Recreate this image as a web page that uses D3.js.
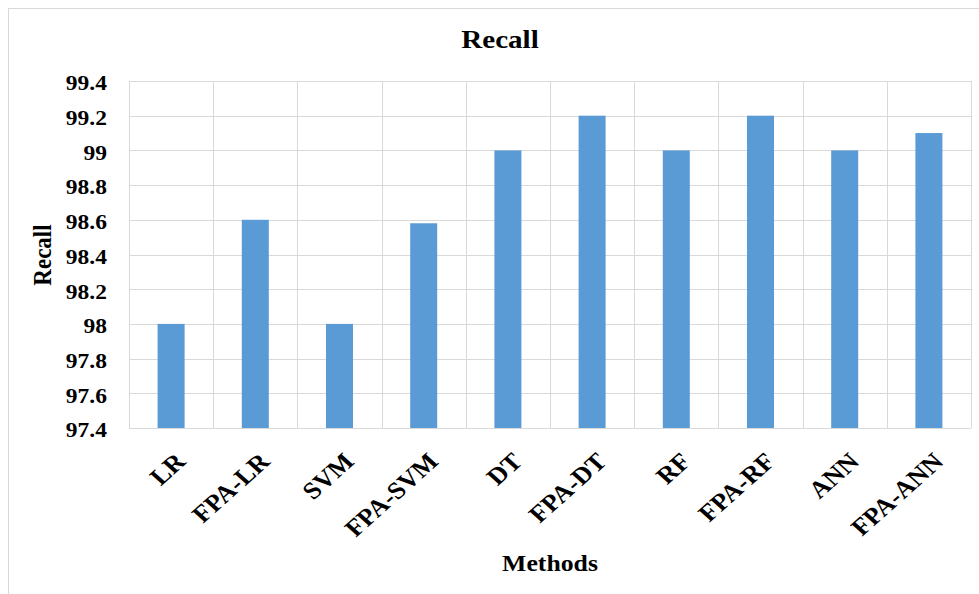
<!DOCTYPE html>
<html>
<head>
<meta charset="utf-8">
<script src="https://cdn.jsdelivr.net/npm/d3@7"></script>
<style>
  html, body { margin: 0; padding: 0; background: #fff; }
  svg text { font-family: "Liberation Serif", "Times New Roman", serif; font-weight: bold; fill: #000; }
</style>
</head>
<body>
<svg id="chart" width="979" height="594"></svg>
<script>
// Recall per method
const methods = ["LR", "FPA-LR", "SVM", "FPA-SVM", "DT", "FPA-DT", "RF", "FPA-RF", "ANN", "FPA-ANN"];
const recall = [98.0, 98.6, 98.0, 98.58, 99.0, 99.2, 99.0, 99.2, 99.0, 99.1];
const yTicks = [97.4, 97.6, 97.8, 98, 98.2, 98.4, 98.6, 98.8, 99, 99.2, 99.4];

const svg = d3.select("#chart");
const W = 979, H = 594;
const m = { left: 129, right: 971, top: 81, bottom: 428 };
const sx = 1.12; // horizontal widening of the serif lettering

// chart frame
svg.append("rect")
  .attr("x", 8.5).attr("y", 8.5)
  .attr("width", W + 10).attr("height", H + 10)
  .attr("fill", "#fff").attr("stroke", "#d9d9d9").attr("stroke-width", 1);

const x = d3.scaleBand().domain(methods).range([m.left, m.right]).paddingInner(0).paddingOuter(0);
const y = d3.scaleLinear().domain([97.4, 99.4]).range([m.bottom, m.top]);

const grid = svg.append("g");
// horizontal gridlines
grid.selectAll("line.h").data(yTicks).join("line")
  .attr("x1", m.left).attr("x2", m.right)
  .attr("y1", d => Math.round(y(d)) + 0.5).attr("y2", d => Math.round(y(d)) + 0.5)
  .attr("stroke", "#d9d9d9").attr("stroke-width", 1);
// vertical gridlines at category boundaries
const bounds = methods.map(d => x(d)).concat([m.right]);
grid.selectAll("line.v").data(bounds).join("line")
  .attr("x1", d => Math.round(d) + 0.5).attr("x2", d => Math.round(d) + 0.5)
  .attr("y1", m.top).attr("y2", m.bottom)
  .attr("stroke", "#d9d9d9").attr("stroke-width", 1);

// bars
const barW = 27;
svg.append("g").selectAll("rect").data(methods).join("rect")
  .attr("x", d => x(d) + x.bandwidth() / 2 - barW / 2)
  .attr("y", (d, i) => y(recall[i]))
  .attr("width", barW)
  .attr("height", (d, i) => y(97.4) - y(recall[i]))
  .attr("fill", "#5b9bd5");

// y axis tick labels
const yAxis = d3.axisLeft(y).tickValues(yTicks).tickSize(0).tickPadding(0)
  .tickFormat(d => d3.format("")(+d.toFixed(1)));
const ya = svg.append("g").attr("transform", `translate(${m.left},0)`).call(yAxis);
ya.select(".domain").remove();
ya.selectAll("text")
  .style("font-size", "21px").attr("font-family", null)
  .attr("x", 0).attr("dy", "0.42em")
  .attr("text-anchor", "end")
  .attr("transform", `translate(-22,0) scale(${sx},1)`);

// x axis labels, rotated
const xAxis = d3.axisBottom(x).tickSize(0).tickPadding(0);
const xa = svg.append("g").attr("transform", `translate(0,${m.bottom})`).call(xAxis);
xa.select(".domain").remove();
xa.selectAll("text")
  .style("font-size", "24px").attr("font-family", null)
  .attr("text-anchor", "end")
  .attr("dy", null).attr("y", 0).attr("x", 0)
  .attr("transform", `translate(16,35) scale(${sx},1) rotate(-45)`);

// titles
svg.append("text").attr("text-anchor", "middle")
  .attr("transform", `translate(500,48) scale(${sx},1)`)
  .style("font-size", "26px").text("Recall");
svg.append("text").attr("text-anchor", "middle")
  .attr("transform", `translate(550,571) scale(${sx},1)`)
  .style("font-size", "23px").text("Methods");
svg.append("text").attr("transform", "translate(51,255) scale(1.05,1) rotate(-90)").attr("text-anchor", "middle")
  .style("font-size", "23px").text("Recall");
</script>
</body>
</html>
